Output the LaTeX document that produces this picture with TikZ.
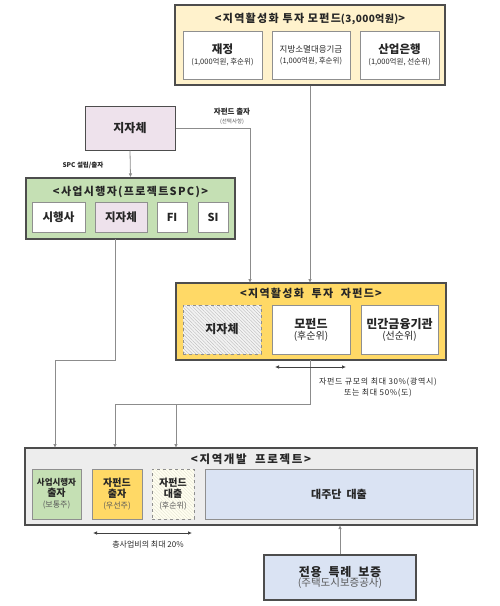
\documentclass[tikz,border=0pt]{standalone}
\usepackage{fontspec}
\setmainfont{Noto Sans CJK KR}
\usetikzlibrary{arrows.meta,patterns.meta}
\definecolor{lineg}{HTML}{8C8C8C}
\definecolor{bordd}{HTML}{4D4D4D}
\definecolor{bordl}{HTML}{8F8F8F}
\definecolor{topfill}{HTML}{FFF2CC}
\definecolor{pinkf}{HTML}{EEE2EC}
\definecolor{greenf}{HTML}{C5E0B4}
\definecolor{goldf}{HTML}{FFD966}
\definecolor{grayf}{HTML}{EDEDED}
\definecolor{bluef}{HTML}{DAE3F3}
\definecolor{txt}{HTML}{262626}
\definecolor{subt}{HTML}{595959}
\newcommand{\lsp}[1]{\addfontfeature{LetterSpace=#1}}
\tikzset{
  outerbox/.style={draw=bordd, line width=1.1pt, inner sep=0pt},
  innerbox/.style={draw=bordl, line width=0.8pt, fill=white, inner sep=0pt, align=center, text=txt},
  conn/.style={draw=lineg, line width=0.8pt},
  arr/.style={conn, -{Latex[length=4pt,width=3.5pt]}},
  darr/.style={draw=black!75, line width=0.7pt, {Latex[length=4pt,width=3.5pt]}-{Latex[length=4pt,width=3.5pt]}},
  ttl/.style={font=\bfseries\fontsize{11}{13}\selectfont\lsp{12}, text=txt, inner sep=0pt},
  lbl/.style={text=txt, inner sep=0pt, align=center},
  hatch/.style={pattern={Lines[angle=-45,distance=2.4pt,line width=0.35pt]}, pattern color=#1},
}
\begin{document}
\begin{tikzpicture}[x=1pt,y=-1pt]
\useasboundingbox (0,0) rectangle (500,606);
% ---- top fund
\node[outerbox, fill=topfill, minimum width=270, minimum height=80] (mofund) at (310,45) {};
\node[ttl] (mot) at (310,19) {<지역활성화\ 투자\ 모펀드{\fontsize{10}{11}\selectfont\lsp{4}(3,000억원)}>};
\node[innerbox, minimum width=79, minimum height=48] (jaejeong) at (222.5,55)
  {{\bfseries\fontsize{11.5}{14}\selectfont 재정}\\[-1pt]{\fontsize{7.5}{9}\selectfont(1,000억원, 후순위)}};
\node[innerbox, minimum width=78, minimum height=48] (jibang) at (311,55)
  {{\fontsize{8.5}{13}\selectfont 지방소멸대응기금}\\[-1pt]{\fontsize{7.5}{9}\selectfont(1,000억원, 후순위)}};
\node[innerbox, minimum width=79, minimum height=48] (sanup) at (399.5,55)
  {{\bfseries\fontsize{11.5}{14}\selectfont 산업은행}\\[-1pt]{\fontsize{7.5}{9}\selectfont(1,000억원, 선순위)}};
% ---- local government
\node[outerbox, draw=bordd, line width=1pt, fill=pinkf, minimum width=90, minimum height=44,
  font=\bfseries\fontsize{12}{14}\selectfont, text=txt] (jjtop) at (130,128) {지자체};
% ---- SPC
\node[outerbox, fill=greenf, minimum width=209, minimum height=61] (spc) at (130.5,208.5) {};
\node[ttl] (spct) at (130.5,192) {<사업시행자(프로젝트SPC)>};
\node[innerbox, minimum width=53, minimum height=30, font=\bfseries\fontsize{11.5}{13}\selectfont] (sihaeng) at (58.5,217) {시행사};
\node[innerbox, fill=pinkf, minimum width=52, minimum height=30, font=\bfseries\fontsize{11.5}{13}\selectfont] (jjspc) at (121,217) {지자체};
\node[innerbox, minimum width=30, minimum height=30, font=\bfseries\fontsize{11}{13}\selectfont] (fi) at (172,217) {FI};
\node[innerbox, minimum width=30, minimum height=30, font=\bfseries\fontsize{11}{13}\selectfont] (si) at (213,217) {SI};
% ---- child fund
\node[outerbox, fill=goldf, minimum width=270, minimum height=77] (jafund) at (311,321.5) {};
\node[ttl] (jat) at (311,293) {<지역활성화\ \ 투자\ \ 자펀드>};
\node[innerbox, dashed, preaction={fill=black!5}, hatch=black!28,
  minimum width=78, minimum height=49] (jjhatch) at (222,329.5) {};
\node[font=\bfseries\fontsize{12}{14}\selectfont, text=txt] (jjlab) at (222,329.5) {지자체};
\node[innerbox, minimum width=78, minimum height=49] (mofundin) at (311,329.5)
  {{\bfseries\fontsize{12}{14}\selectfont 모펀드}\\[-1pt]{\fontsize{10}{12}\selectfont(후순위)}};
\node[innerbox, minimum width=77, minimum height=49] (mingan) at (399.5,329.5)
  {{\bfseries\fontsize{12}{14}\selectfont 민간금융기관}\\[-1pt]{\fontsize{10}{12}\selectfont(선순위)}};
% ---- project
\node[outerbox, fill=grayf, minimum width=452, minimum height=77] (proj) at (251,486.5) {};
\node[ttl, font=\bfseries\fontsize{11.5}{13}\selectfont\lsp{14}] (projt) at (251,459) {<지역개발\ \ 프로젝트>};
\node[innerbox, fill=greenf, minimum width=49, minimum height=50] (pgreen) at (56.5,494)
  {{\bfseries\fontsize{8.5}{10}\selectfont 사업시행자}\\[-1pt]{\bfseries\fontsize{10}{12}\selectfont 출자}\\[-1pt]{\fontsize{8}{10}\selectfont\color{subt}(보통주)}};
\node[innerbox, fill=goldf, minimum width=50, minimum height=50] (pgold) at (117,494)
  {{\bfseries\fontsize{10}{12}\selectfont 자펀드}\\[-1pt]{\bfseries\fontsize{10}{12}\selectfont 출자}\\[-1pt]{\fontsize{8}{10}\selectfont\color{subt}(우선주)}};
\node[innerbox, dashed, preaction={fill=yellow!6}, hatch=yellow!40!black!18,
  minimum width=42, minimum height=50] (ploan) at (173,494) {};
\node[align=center, text=txt, inner sep=0pt] (ploanl) at (173,494)
  {{\bfseries\fontsize{10}{12}\selectfont 자펀드}\\[-1pt]{\bfseries\fontsize{10}{12}\selectfont 대출}\\[-1pt]{\fontsize{8}{10}\selectfont\color{subt}(후순위)}};
\node[innerbox, fill=bluef, minimum width=268, minimum height=50, font=\bfseries\fontsize{11}{12}\selectfont] (pblue) at (339,494) {대주단\ \ 대출};
% ---- guarantee
\node[outerbox, fill=bluef, minimum width=152, minimum height=45, align=center, text=txt] (guar) at (340,577.5)
  {{\bfseries\fontsize{12}{14}\selectfont\lsp{6} 전용\ \ 특례\ \ 보증}\\[-2pt]{\fontsize{10.5}{12}\selectfont\color{subt}(주택도시보증공사)}};
% ---- coordinates
\coordinate (c1) at (250,128);
\coordinate (c1b) at (250,283);
\coordinate (s1) at (115,239);
\coordinate (s2) at (115,360);
\coordinate (s3) at (55,360);
\coordinate (s4) at (55,448);
\coordinate (j1) at (310,360);
\coordinate (j2) at (310,404);
\coordinate (j3) at (115,404);
\coordinate (j4) at (115,448);
\coordinate (j5) at (176,404);
\coordinate (j6) at (176,448);
\coordinate (g1) at (340,525);
\coordinate (m1) at (310,283);
\coordinate (d1) at (275,367);
\coordinate (d2) at (346,367);
\coordinate (e1) at (93,533);
\coordinate (e2) at (192,533);
% ---- connectors
\draw[arr] (jjtop.east) -- (c1) -- (c1b);
\draw[arr] (mofund.south) -- (m1);
\draw[arr] (jjtop.south) -- (spc.north);
\draw[arr] (s1) -- (s2) -- (s3) -- (s4);
\draw[arr] (j1) -- (j2) -- (j3) -- (j4);
\draw[arr] (j5) -- (j6);
\draw[arr] (guar.north) -- (g1);
\draw[darr] (d1) -- (d2);
\draw[darr] (e1) -- (e2);
% ---- labels
\node[lbl, font=\bfseries\fontsize{6.5}{8}\selectfont] (l1) at (83,165) {SPC 설립/출자};
\node[lbl, font=\bfseries\fontsize{7.5}{8}\selectfont] (l2) at (232,112) {자펀드\ 출자};
\node[lbl, font=\fontsize{5.5}{6}\selectfont, text=subt] (l3) at (232,121.5) {(선택사항)};
\node[lbl, font=\fontsize{8}{11}\selectfont\lsp{8}] (l4) at (378,387.5) {자펀드\ 규모의\ 최대\ 30\%(광역시)\\또는\ 최대\ 50\%(도)};
\node[lbl, font=\fontsize{8}{9}\selectfont] (l5) at (148,544) {총사업비의\ 최대\ 20\%};
\end{tikzpicture}
\end{document}
